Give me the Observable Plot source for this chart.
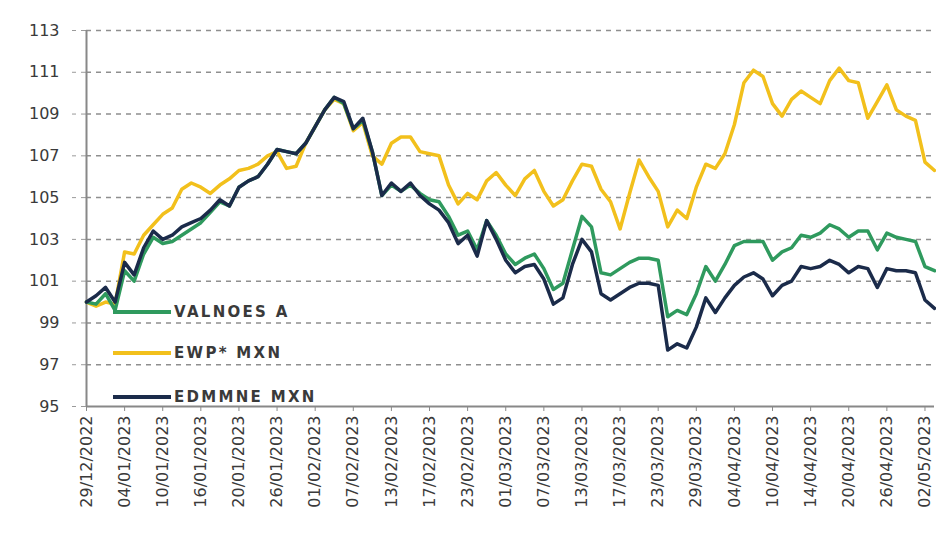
<!DOCTYPE html>
<html>
<head>
<meta charset="utf-8">
<script src="https://cdn.jsdelivr.net/npm/d3@7"></script>
<script src="https://cdn.jsdelivr.net/npm/@observablehq/plot@0.6"></script>
<style>
  html, body { margin: 0; padding: 0; background: #fff; }
  #wrap { position: relative; width: 936px; height: 533px; overflow: hidden; }
  #legend { position: absolute; left: 0; top: 0; font-family: "DejaVu Sans", Verdana, sans-serif; }
  .lg { position: absolute; display: flex; align-items: center; white-space: nowrap; }
  .lg .sw { width: 58px; height: 4px; margin-right: 3px; }
  .lg span { font-size: 15px; font-weight: bold; color: #3a3a3a; letter-spacing: 2.3px; }
</style>
</head>
<body>
<div id="wrap"><div id="chart"></div><div id="legend"></div></div>
<script>
const dates = [
  "29/12/2022","30/12/2022",
  "02/01/2023","03/01/2023","04/01/2023","05/01/2023","06/01/2023","09/01/2023","10/01/2023","11/01/2023","12/01/2023","13/01/2023",
  "16/01/2023","17/01/2023","18/01/2023","19/01/2023","20/01/2023","23/01/2023","24/01/2023","25/01/2023","26/01/2023","27/01/2023",
  "30/01/2023","31/01/2023",
  "01/02/2023","02/02/2023","03/02/2023","06/02/2023","07/02/2023","08/02/2023","09/02/2023","10/02/2023","13/02/2023","14/02/2023",
  "15/02/2023","16/02/2023","17/02/2023","20/02/2023","21/02/2023","22/02/2023","23/02/2023","24/02/2023","27/02/2023","28/02/2023",
  "01/03/2023","02/03/2023","03/03/2023","06/03/2023","07/03/2023","08/03/2023","09/03/2023","10/03/2023","13/03/2023","14/03/2023",
  "15/03/2023","16/03/2023","17/03/2023","20/03/2023","21/03/2023","22/03/2023","23/03/2023","24/03/2023","27/03/2023","28/03/2023",
  "29/03/2023","30/03/2023","31/03/2023",
  "03/04/2023","04/04/2023","05/04/2023","06/04/2023","07/04/2023","10/04/2023","11/04/2023","12/04/2023","13/04/2023","14/04/2023",
  "17/04/2023","18/04/2023","19/04/2023","20/04/2023","21/04/2023","24/04/2023","25/04/2023","26/04/2023","27/04/2023","28/04/2023",
  "01/05/2023","02/05/2023","03/05/2023"
];

const xTickLabels = [
  "29/12/2022","04/01/2023","10/01/2023","16/01/2023","20/01/2023","26/01/2023","01/02/2023","07/02/2023",
  "13/02/2023","17/02/2023","23/02/2023","01/03/2023","07/03/2023","13/03/2023","17/03/2023","23/03/2023",
  "29/03/2023","04/04/2023","10/04/2023","14/04/2023","20/04/2023","26/04/2023","02/05/2023"
];

const yTicks = [95, 97, 99, 101, 103, 105, 107, 109, 111, 113];

const seriesNames = ["VALNOES A", "EWP* MXN", "EDMMNE MXN"];

const valnoesA = [
  100.0, 99.9, 100.4, 99.6, 101.5, 101.0, 102.3, 103.1, 102.8, 102.9,
  103.2, 103.5, 103.8, 104.3, 104.8, 104.6, 105.5, 105.8, 106.0, 106.6,
  107.3, 107.2, 107.1, 107.6, 108.4, 109.2, 109.8, 109.5, 108.3, 108.7,
  107.2, 105.1, 105.6, 105.3, 105.6, 105.2, 104.9, 104.8, 104.1, 103.2,
  103.4, 102.5, 103.9, 103.2, 102.3, 101.8, 102.1, 102.3, 101.6, 100.6,
  100.9, 102.5, 104.1, 103.6, 101.4, 101.3, 101.6, 101.9, 102.1, 102.1,
  102.0, 99.3, 99.6, 99.4, 100.4, 101.7, 101.0, 101.8, 102.7, 102.9,
  102.9, 102.9, 102.0, 102.4, 102.6, 103.2, 103.1, 103.3, 103.7, 103.5,
  103.1, 103.4, 103.4, 102.5, 103.3, 103.1, 103.0, 102.9, 101.7, 101.5
];

const ewpMxn = [
  100.0, 99.8, 100.0, 99.9, 102.4, 102.3, 103.2, 103.7, 104.2, 104.5,
  105.4, 105.7, 105.5, 105.2, 105.6, 105.9, 106.3, 106.4, 106.6, 107.0,
  107.2, 106.4, 106.5, 107.6, 108.4, 109.2, 109.7, 109.5, 108.2, 108.6,
  107.0, 106.6, 107.6, 107.9, 107.9, 107.2, 107.1, 107.0, 105.6, 104.7,
  105.2, 104.9, 105.8, 106.2, 105.6, 105.1, 105.9, 106.3, 105.3, 104.6,
  104.9, 105.8, 106.6, 106.5, 105.4, 104.8, 103.5, 105.2, 106.8, 106.0,
  105.3, 103.6, 104.4, 104.0, 105.5, 106.6, 106.4, 107.1, 108.5, 110.5,
  111.1, 110.8, 109.5, 108.9, 109.7, 110.1, 109.8, 109.5, 110.6, 111.2,
  110.6, 110.5, 108.8, 109.6, 110.4, 109.2, 108.9, 108.7, 106.7, 106.3
];

const edmmneMxn = [
  100.0, 100.3, 100.7, 100.0, 101.9, 101.3, 102.6, 103.4, 103.0, 103.2,
  103.6, 103.8, 104.0, 104.4, 104.9, 104.6, 105.5, 105.8, 106.0, 106.6,
  107.3, 107.2, 107.1, 107.6, 108.4, 109.2, 109.8, 109.6, 108.3, 108.8,
  107.2, 105.1, 105.7, 105.3, 105.7, 105.1, 104.7, 104.4, 103.8, 102.8,
  103.2, 102.2, 103.9, 103.0, 102.0, 101.4, 101.7, 101.8, 101.1, 99.9,
  100.2, 101.8, 103.0, 102.4, 100.4, 100.1, 100.4, 100.7, 100.9, 100.9,
  100.8, 97.7, 98.0, 97.8, 98.8, 100.2, 99.5, 100.2, 100.8, 101.2,
  101.4, 101.1, 100.3, 100.8, 101.0, 101.7, 101.6, 101.7, 102.0, 101.8,
  101.4, 101.7, 101.6, 100.7, 101.6, 101.5, 101.5, 101.4, 100.1, 99.7
];

const colors = ["#2f9a5e", "#f2c01c", "#1b2b4a"];

// draw order: yellow, green, dark on top
const order = [1, 0, 2];
const valuesBySeries = [valnoesA, ewpMxn, edmmneMxn];
const table = [];
order.forEach(s => {
  dates.forEach((d, i) => table.push({date: d, value: valuesBySeries[s][i], series: seriesNames[s]}));
});

const font = "DejaVu Sans, Verdana, sans-serif";

const chart = Plot.plot({
  width: 936,
  height: 533,
  marginLeft: 86,
  marginRight: 2,
  marginTop: 30,
  marginBottom: 127,
  style: {fontFamily: font, background: "#fff"},
  x: {type: "point", domain: dates, padding: 0},
  y: {domain: [95, 113]},
  color: {domain: seriesNames, range: colors},
  marks: [
    Plot.ruleY(yTicks.filter(t => t > 95), {stroke: "#8f8f8f", strokeWidth: 1.5, strokeDasharray: "5,5"}),
    Plot.axisY({ticks: yTicks, tickSize: 14, tickPadding: 13, stroke: "#9a9a9a", strokeDasharray: "5,5",
      fontSize: 16, fill: "#3a3a3a", label: null, style: {letterSpacing: "1.5px"}}),
    Plot.axisX({ticks: xTickLabels, tickRotate: -90, tickSize: 5, tickPadding: 4, stroke: "#8a8a8a",
      fontSize: 16, fill: "#3a3a3a", label: null, style: {letterSpacing: "2px"}}),
    Plot.ruleX([dates[0]], {y1: 95, y2: 113, stroke: "#888", strokeWidth: 2}),
    Plot.ruleY([95], {stroke: "#888", strokeWidth: 2}),
    Plot.line(table, {x: "date", y: "value", z: "series", stroke: "series", strokeWidth: 3.5, strokeLinejoin: "round"})
  ]
});
document.getElementById("chart").appendChild(chart);

// legend inside the plot area, lower left
const legendPos = [312, 353, 397];
const lg = document.getElementById("legend");
seriesNames.forEach((name, i) => {
  const row = document.createElement("div");
  row.className = "lg";
  row.style.left = "113px";
  row.style.top = (legendPos[i] - 9) + "px";
  row.style.height = "18px";
  const sw = document.createElement("div");
  sw.className = "sw";
  sw.style.background = colors[i];
  const tx = document.createElement("span");
  tx.textContent = name;
  row.appendChild(sw);
  row.appendChild(tx);
  lg.appendChild(row);
});
</script>
</body>
</html>
